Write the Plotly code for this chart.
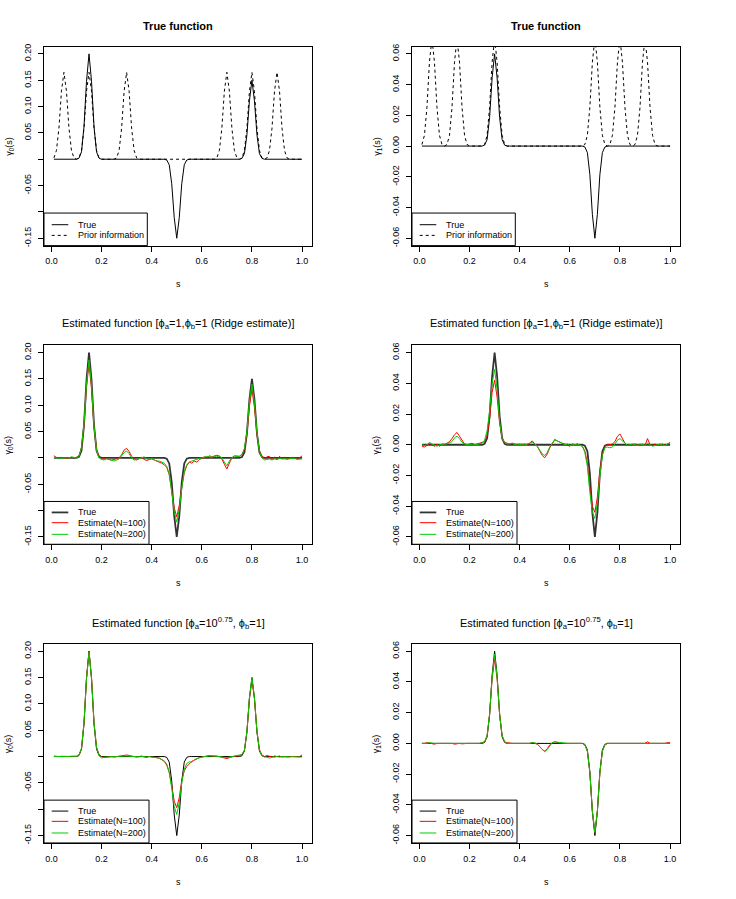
import numpy as np
import plotly.graph_objects as go

# ---------------- data (grid s = 0.01 ... 1.00) ----------------
s = np.round(np.arange(1, 101) / 100, 2)

true_g0 = [
    0, 0, 0, 0, 0, 0, 0, 0, 0, 0,
    0.002, 0.014, 0.062, 0.148, 0.2, 0.148, 0.062, 0.014, 0.002, 0,
    0, 0, 0, 0, 0, 0, 0, 0, 0, 0,
    0, 0, 0, 0, 0, 0, 0, 0, 0, 0,
    0, 0, 0, 0, 0, -0.0015, -0.0105, -0.0465, -0.111, -0.15,
    -0.111, -0.0465, -0.0105, -0.0015, 0, 0, 0, 0, 0, 0,
    0, 0, 0, 0, 0, 0, 0, 0, 0, 0,
    0, 0, 0, 0, 0, 0.0015, 0.0105, 0.0465, 0.111, 0.15,
    0.111, 0.0465, 0.0105, 0.0015, 0, 0, 0, 0, 0, 0,
    0, 0, 0, 0, 0, 0, 0, 0, 0, 0,
]
prior_g0 = [
    0.0025, 0.0165, 0.059, 0.129, 0.165, 0.129, 0.059, 0.0165, 0.0025, 0,
    0.0025, 0.0165, 0.059, 0.129, 0.165, 0.129, 0.059, 0.0165, 0.0025, 0,
    0, 0, 0, 0, 0, 0.0025, 0.0165, 0.059, 0.129, 0.165,
    0.129, 0.059, 0.0165, 0.0025, 0, 0, 0, 0, 0, 0,
    0, 0, 0, 0, 0, 0, 0, 0, 0, 0,
    0, 0, 0, 0, 0, 0, 0, 0, 0, 0,
    0, 0, 0, 0, 0, 0.0025, 0.0165, 0.059, 0.129, 0.165,
    0.129, 0.059, 0.0165, 0.0025, 0, 0.0025, 0.0165, 0.059, 0.129, 0.165,
    0.129, 0.059, 0.0165, 0.0025, 0, 0.0025, 0.0165, 0.059, 0.129, 0.165,
    0.129, 0.059, 0.0165, 0.0025, 0, 0, 0, 0, 0, 0,
]
true_g1 = [
    0, 0, 0, 0, 0, 0, 0, 0, 0, 0,
    0, 0, 0, 0, 0, 0, 0, 0, 0, 0,
    0, 0, 0, 0, 0, 0.0006, 0.0042, 0.0186, 0.0444, 0.06,
    0.0444, 0.0186, 0.0042, 0.0006, 0, 0, 0, 0, 0, 0,
    0, 0, 0, 0, 0, 0, 0, 0, 0, 0,
    0, 0, 0, 0, 0, 0, 0, 0, 0, 0,
    0, 0, 0, 0, 0, -0.0006, -0.0042, -0.0186, -0.0444, -0.06,
    -0.0444, -0.0186, -0.0042, -0.0006, 0, 0, 0, 0, 0, 0,
    0, 0, 0, 0, 0, 0, 0, 0, 0, 0,
    0, 0, 0, 0, 0, 0, 0, 0, 0, 0,
]
prior_g1 = [
    0.001, 0.007, 0.0252, 0.0546, 0.07, 0.0546, 0.0252, 0.007, 0.001, 0,
    0.001, 0.007, 0.0252, 0.0546, 0.07, 0.0546, 0.0252, 0.007, 0.001, 0,
    0, 0, 0, 0, 0, 0.001, 0.007, 0.0252, 0.0546, 0.07,
    0.0546, 0.0252, 0.007, 0.001, 0, 0, 0, 0, 0, 0,
    0, 0, 0, 0, 0, 0, 0, 0, 0, 0,
    0, 0, 0, 0, 0, 0, 0, 0, 0, 0,
    0, 0, 0, 0, 0, 0.001, 0.007, 0.0252, 0.0546, 0.07,
    0.0546, 0.0252, 0.007, 0.001, 0, 0.001, 0.007, 0.0252, 0.0546, 0.07,
    0.0546, 0.0252, 0.007, 0.001, 0, 0.001, 0.007, 0.0252, 0.0546, 0.07,
    0.0546, 0.0252, 0.007, 0.001, 0, 0, 0, 0, 0, 0,
]

# Ridge estimate, gamma0
ridge_g0_n100 = [
    0.004, 0.001, 0.0, 0.001, 0.0, -0.001, 0.0, 0.001, 0.0, 0.001,
    0.004, 0.02, 0.062, 0.135, 0.178, 0.13, 0.058, 0.016, 0.002, -0.002,
    -0.002, -0.001, -0.003, -0.004, -0.003, -0.002, 0.0, 0.006, 0.015, 0.018,
    0.012, 0.003, -0.002, -0.004, -0.002, 0.001, -0.003, -0.005, -0.003, -0.002,
    -0.004, -0.006, -0.007, -0.01, -0.013, -0.018, -0.032, -0.062, -0.095, -0.112,
    -0.09, -0.056, -0.028, -0.015, -0.008, -0.01, -0.006, -0.008, -0.003, -0.001,
    0.002, 0.0, 0.004, 0.002, 0.003, 0.005, 0.003, -0.002, -0.012, -0.021,
    -0.01, 0.0, 0.004, 0.004, 0.003, 0.006, 0.016, 0.045, 0.098, 0.13,
    0.096, 0.045, 0.014, 0.003, -0.002, 0.002, 0.003, -0.003, 0.002, -0.004,
    0.003, -0.002, 0.001, -0.003, 0.0, 0.001, 0.0, -0.001, 0.0, 0.004,
]
ridge_g0_n200 = [
    0.001, 0.0, -0.001, 0.0, 0.0, -0.001, 0.0, 0.002, 0.001, 0.0,
    0.003, 0.02, 0.066, 0.14, 0.186, 0.138, 0.06, 0.014, 0.0, -0.003,
    -0.004, -0.002, -0.003, -0.005, -0.006, -0.004, -0.002, 0.004, 0.01, 0.013,
    0.008, 0.0, -0.004, -0.003, -0.001, 0.0, 0.002, -0.002, -0.003, -0.001,
    -0.003, -0.006, -0.006, -0.008, -0.01, -0.016, -0.03, -0.064, -0.102, -0.122,
    -0.098, -0.058, -0.026, -0.013, -0.008, -0.006, -0.004, -0.003, -0.001, 0.0,
    0.001, 0.003, 0.002, 0.001, 0.003, 0.002, 0.004, 0.0, -0.008, -0.015,
    -0.006, 0.001, 0.002, 0.003, 0.003, 0.007, 0.018, 0.05, 0.108, 0.14,
    0.104, 0.048, 0.012, 0.0, -0.004, -0.003, -0.002, -0.004, -0.002, -0.003,
    -0.001, -0.002, -0.002, -0.003, -0.002, -0.001, -0.001, -0.003, -0.002, -0.002,
]
# Ridge estimate, gamma1
ridge_g1_n100 = [
    -0.001, -0.0015, -0.0005, 0.001, 0.0, -0.001, 0.0005, -0.001, 0.0005, 0.0,
    0.001, 0.002, 0.004, 0.0065, 0.008, 0.0055, 0.0025, 0.0005, 0.0, 0.0005,
    0.001, 0.0, 0.0005, 0.0005, 0.001, 0.002, 0.006, 0.017, 0.034, 0.042,
    0.031, 0.014, 0.004, 0.0015, 0.001, 0.0005, 0.001, 0.0005, 0.0, 0.0005,
    0.0, 0.0005, 0.0, 0.001, 0.0025, 0.0005, -0.001, -0.004, -0.007, -0.0085,
    -0.006, -0.002, 0.001, 0.0035, 0.0025, 0.0015, 0.001, 0.0005, 0.0, -0.001,
    0.0005, 0.0, 0.0005, -0.0005, -0.001, -0.004, -0.012, -0.028, -0.04, -0.044,
    -0.034, -0.017, -0.006, -0.001, 0.0, 0.0, 0.0005, 0.002, 0.0055, 0.007,
    0.004, 0.001, -0.0005, -0.0005, 0.0, 0.0005, 0.0, -0.0005, 0.0005, -0.0005,
    0.004, 0.0, -0.0005, 0.0005, -0.0005, 0.0, 0.0005, -0.0005, 0.0005, 0.0015,
]
ridge_g1_n200 = [
    0.0, -0.0005, 0.0, 0.0015, 0.0005, -0.0005, -0.001, 0.0, 0.0005, 0.0005,
    0.0005, 0.001, 0.002, 0.0045, 0.0055, 0.004, 0.0015, 0.0005, 0.0, 0.0,
    0.0005, 0.0, 0.0, 0.0005, 0.001, 0.003, 0.009, 0.022, 0.04, 0.049,
    0.036, 0.015, 0.004, 0.0015, 0.0005, 0.0005, 0.001, 0.0, 0.0005, 0.0,
    0.0005, 0.0, 0.0005, 0.001, 0.0015, 0.0005, -0.001, -0.0035, -0.006, -0.007,
    -0.005, -0.0015, 0.001, 0.003, 0.0025, 0.0015, 0.001, 0.0, 0.0005, -0.0005,
    0.0, 0.0, 0.0005, 0.0, -0.001, -0.005, -0.014, -0.031, -0.044, -0.048,
    -0.038, -0.02, -0.007, -0.002, -0.0015, -0.002, -0.0015, 0.0005, 0.003, 0.004,
    0.0025, 0.0005, -0.0005, 0.0, 0.0005, 0.0, -0.0005, 0.0005, 0.0, -0.0005,
    0.001, 0.0, -0.001, -0.0005, 0.0, 0.0005, 0.0, -0.0005, 0.0005, 0.001,
]
# Prior-informed estimate, gamma0
prior_est_g0_n100 = [
    0.001, 0.0, 0.0, 0.0005, 0.0, -0.0005, 0.0, 0.0005, 0.0, 0.0005,
    0.003, 0.015, 0.063, 0.15, 0.2, 0.15, 0.065, 0.018, 0.004, 0.0,
    -0.002, -0.001, -0.001, 0.0, -0.001, 0.0, 0.001, 0.0015, 0.002, 0.003,
    0.002, 0.001, 0.0, -0.001, 0.0, 0.001, -0.001, -0.0015, 0.0, -0.001,
    -0.002, -0.002, -0.003, -0.006, -0.009, -0.016, -0.03, -0.055, -0.085, -0.097,
    -0.078, -0.045, -0.027, -0.019, -0.013, -0.009, -0.007, -0.004, -0.002, -0.001,
    0.0, 0.002, 0.002, 0.001, 0.0015, 0.001, 0.0, -0.001, -0.002, -0.004,
    -0.002, 0.0, 0.0005, 0.001, 0.0015, 0.004, 0.012, 0.047, 0.11, 0.145,
    0.11, 0.048, 0.013, 0.003, 0.0, 0.002, 0.001, -0.001, 0.001, 0.0,
    0.001, -0.001, 0.0, -0.001, 0.0, 0.0, 0.001, 0.0, 0.0, 0.003,
]
prior_est_g0_n200 = [
    0.0, 0.0, -0.0005, 0.0, 0.0, 0.0, 0.0, 0.0, 0.0005, 0.0005,
    0.003, 0.016, 0.065, 0.148, 0.198, 0.148, 0.064, 0.017, 0.002, -0.003,
    -0.001, -0.001, 0.0, -0.001, 0.0, 0.0, 0.0005, 0.001, 0.0005, 0.001,
    0.0005, 0.0, 0.0, 0.0, -0.0005, 0.0, 0.0005, -0.001, 0.0, -0.001,
    -0.001, -0.002, -0.003, -0.005, -0.008, -0.014, -0.03, -0.06, -0.095, -0.11,
    -0.088, -0.05, -0.024, -0.013, -0.01, -0.011, -0.006, -0.004, -0.002, -0.001,
    0.0, 0.001, 0.001, 0.0015, 0.001, 0.001, 0.0005, 0.0, -0.001, -0.002,
    -0.001, 0.0, 0.0005, 0.001, 0.002, 0.004, 0.012, 0.048, 0.112, 0.15,
    0.112, 0.048, 0.012, 0.002, -0.001, -0.001, -0.003, -0.001, -0.001, 0.0,
    -0.001, 0.0, -0.0005, 0.0, -0.001, 0.0, -0.0005, -0.001, -0.001, -0.0005,
]
# Prior-informed estimate, gamma1
prior_est_g1_n100 = [
    0.0, 0.0, 0.0005, 0.0, 0.0, -0.0005, 0.0, 0.0, -0.0003, 0.0,
    0.0, 0.0, 0.0, -0.0005, 0.0, 0.0, -0.0003, 0.0, 0.0, 0.0,
    0.0, 0.0, 0.0, 0.0, 0.0005, 0.001, 0.005, 0.019, 0.042, 0.055,
    0.042, 0.019, 0.005, 0.001, 0.0005, 0.0, 0.0, 0.0, 0.0, 0.0,
    0.0, 0.0, 0.0, 0.0, 0.0005, 0.0, -0.0005, -0.002, -0.004, -0.005,
    -0.0035, -0.001, 0.0005, 0.001, 0.0005, 0.0, 0.0, 0.0, 0.0, 0.0,
    0.0, 0.0, 0.0, 0.0, 0.0, -0.001, -0.005, -0.019, -0.044, -0.058,
    -0.044, -0.019, -0.005, -0.001, 0.0, 0.0, 0.0, 0.0, 0.0003, 0.0,
    0.0, 0.0, 0.0003, 0.0, 0.0, 0.0, 0.0, 0.0, 0.0, 0.0,
    0.001, 0.0, 0.0, 0.0, 0.0, 0.0, 0.0, 0.0, 0.0005, 0.0005,
]
prior_est_g1_n200 = [
    0.0, 0.0, 0.0, 0.0005, 0.0, 0.0, 0.0, 0.0, 0.0, 0.0,
    0.0, 0.0, 0.0, 0.0, 0.0, 0.0, 0.0, 0.0, 0.0, 0.0,
    0.0, 0.0, 0.0, 0.0, 0.0005, 0.001, 0.005, 0.019, 0.043, 0.058,
    0.043, 0.019, 0.005, 0.001, 0.0, 0.0, 0.0, 0.0, 0.0, 0.0,
    0.0, 0.0, 0.0, 0.0, 0.0005, 0.0005, -0.0005, -0.002, -0.004, -0.0055,
    -0.004, -0.0015, 0.0005, 0.001, 0.0008, 0.0003, 0.0, 0.0, 0.0, 0.0,
    0.0, 0.0, 0.0, 0.0, 0.0, -0.001, -0.005, -0.019, -0.044, -0.058,
    -0.044, -0.019, -0.005, -0.001, 0.0, 0.0, 0.0, 0.0, 0.0, 0.0,
    0.0, 0.0, 0.0, 0.0, 0.0, 0.0, 0.0, 0.0, 0.0, 0.0,
    0.0, 0.0, 0.0, 0.0, 0.0, 0.0, 0.0, 0.0, 0.0, 0.0,
]

x_ticks = [0.0, 0.2, 0.4, 0.6, 0.8, 1.0]
x_tick_text = ["0.0", "0.2", "0.4", "0.6", "0.8", "1.0"]
y0_ticks = [-0.15, -0.10, -0.05, 0.0, 0.05, 0.10, 0.15, 0.20]
y0_tick_text = ["-0.15", "", "-0.05", "", "0.05", "0.10", "0.15", "0.20"]
y1_ticks = [-0.06, -0.04, -0.02, 0.0, 0.02, 0.04, 0.06]
y1_tick_text = ["-0.06", "-0.04", "-0.02", "0.00", "0.02", "0.04", "0.06"]

legend_true_prior = ["True", "Prior information"]
legend_est = ["True", "Estimate(N=100)", "Estimate(N=200)"]

title_true = "<b>True function</b>"
title_ridge = "Estimated function [ϕ<sub>a</sub>=1,ϕ<sub>b</sub>=1 (Ridge estimate)]"
title_prior = "Estimated function [ϕ<sub>a</sub>=10<sup>0.75</sup>, ϕ<sub>b</sub>=1]"

# ---------------- layout geometry (page pixels) ----------------
W, H = 736, 899
FONT = "Liberation Sans, Arial, Helvetica, sans-serif"
RED = "#FF0000"
GREEN = "#00CD00"


def px(x):
    return x / W


def py(y):
    return 1 - y / H


col_x = [(44, 312), (412, 680)]
row_top = [43.7, 343.7, 643.7]
BOX_H = 200

fig = go.Figure()
layout = dict(
    width=W, height=H, margin=dict(l=0, r=0, t=0, b=0),
    paper_bgcolor="white", plot_bgcolor="white", showlegend=False,
    font=dict(family=FONT, size=9, color="black"),
)
shapes = []
annotations = []

panels = [
    (0, 0, 0, title_true, [(true_g0, "black", "solid", 1), (prior_g0, "black", "3px,3px", 1)]),
    (0, 1, 1, title_true, [(true_g1, "black", "solid", 1), (prior_g1, "black", "3px,3px", 1)]),
    (1, 0, 0, title_ridge, [(true_g0, "#333333", "solid", 1.8), (ridge_g0_n100, RED, "solid", 1), (ridge_g0_n200, GREEN, "solid", 1)]),
    (1, 1, 1, title_ridge, [(true_g1, "#333333", "solid", 1.8), (ridge_g1_n100, RED, "solid", 1), (ridge_g1_n200, GREEN, "solid", 1)]),
    (2, 0, 0, title_prior, [(true_g0, "black", "solid", 1), (prior_est_g0_n100, RED, "solid", 1), (prior_est_g0_n200, GREEN, "solid", 1)]),
    (2, 1, 1, title_prior, [(true_g1, "black", "solid", 1), (prior_est_g1_n100, RED, "solid", 1), (prior_est_g1_n200, GREEN, "solid", 1)]),
]

for k, (r, c, g, title, series) in enumerate(panels):
    idx = "" if k == 0 else str(k + 1)
    xa, ya = "x" + idx, "y" + idx
    x0, x1 = col_x[c]
    top = row_top[r]
    bot = top + BOX_H
    names = legend_true_prior if r == 0 else legend_est
    for (vals, color, dash, width), name in zip(series, names):
        fig.add_trace(go.Scatter(
            x=s, y=vals, mode="lines", name=name, xaxis=xa, yaxis=ya,
            line=dict(color=color, dash=dash, width=width), hoverinfo="skip",
        ))
    axis_common = dict(
        showline=True, linecolor="black", linewidth=1, mirror=True,
        ticks="outside", ticklen=5, tickwidth=1, tickcolor="black",
        showgrid=False, zeroline=False,
        tickfont=dict(family=FONT, size=9, color="black"),
    )
    layout["xaxis" + idx] = dict(
        domain=[px(x0), px(x1)], anchor=ya, range=[-0.0296, 1.0396],
        tickvals=x_ticks, ticktext=x_tick_text, ticklabelstandoff=2,
        **axis_common,
    )
    if g == 0:
        yr, tv, tt = [-0.164, 0.214], y0_ticks, y0_tick_text
    else:
        yr, tv, tt = [-0.0648, 0.0648], y1_ticks, y1_tick_text
    layout["yaxis" + idx] = dict(
        domain=[py(bot), py(top)], anchor=xa, range=yr,
        tickvals=tv, ticktext=tt, tickangle=-90, ticklabelstandoff=3,
        **axis_common,
    )
    cx = (x0 + x1) / 2
    cy = (top + bot) / 2
    annotations.append(dict(
        text=title, x=px(cx), y=py(top - 21), xref="paper", yref="paper",
        xanchor="center", yanchor="middle", showarrow=False,
        font=dict(family=FONT, size=11, color="black"),
    ))
    annotations.append(dict(
        text="s", x=px(cx), y=py(bot + 39), xref="paper", yref="paper",
        xanchor="center", yanchor="middle", showarrow=False,
        font=dict(family=FONT, size=9, color="black"),
    ))
    annotations.append(dict(
        text="γ<sub>%d</sub>(s)" % g, x=px(x0 - 35.2), y=py(cy),
        xref="paper", yref="paper", xanchor="center", yanchor="middle",
        textangle=-90, showarrow=False,
        font=dict(family=FONT, size=9, color="black"),
    ))
    n = len(names)
    if n == 2:
        lw, lh, offs = 103.3, 32.7, [21.0, 10.3]
    else:
        lw, lh, offs = 105, 43, [32.0, 21.7, 10.0]
    shapes.append(dict(
        type="rect", xref="paper", yref="paper",
        x0=px(x0), x1=px(x0 + lw), y0=py(bot), y1=py(bot - lh),
        line=dict(color="black", width=1), fillcolor="white", layer="above",
    ))
    for (vals, color, dash, width), name, off in zip(series, names, offs):
        yy = py(bot - off)
        shapes.append(dict(
            type="line", xref="paper", yref="paper",
            x0=px(x0 + 7.7), x1=px(x0 + 24.3), y0=yy, y1=yy,
            line=dict(color=color, width=width, dash=dash), layer="above",
        ))
        annotations.append(dict(
            text=name, x=px(x0 + 32.2), y=yy, xref="paper", yref="paper",
            xanchor="left", yanchor="middle", showarrow=False,
            font=dict(family=FONT, size=9, color="black"),
        ))

layout["shapes"] = shapes
layout["annotations"] = annotations
fig.update_layout(**layout)
# remove the page's default 8px body margin so the figure fills the window
fig.write_html(
    "out.html",
    config={"displayModeBar": False},
    post_script="document.body.style.margin='0';document.body.style.overflow='hidden';",
)
